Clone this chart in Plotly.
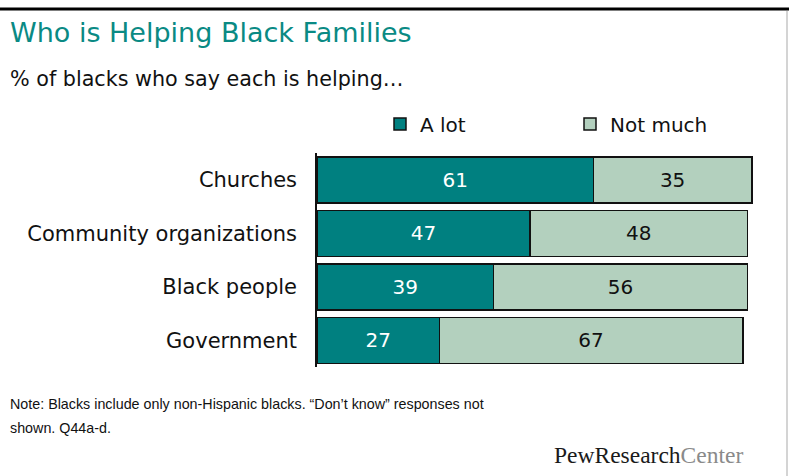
import plotly.graph_objects as go

# Survey results: % of blacks who say each group is helping black families
groups = ["Churches", "Community organizations", "Black people", "Government"]
a_lot = [61, 47, 39, 27]
not_much = [35, 48, 56, 67]
series_names = ["A lot", "Not much"]

TEAL = "#008080"
SAGE = "#b3d0be"
FONT = "DejaVu Sans, Verdana, sans-serif"
NOTE_FONT = "Liberation Sans, Arial, sans-serif"

W, H = 789, 476
L, R, T, B = 317, 19, 153, 109
PW, PH = W - L - R, H - T - B


def px(x):
    """Convert a pixel column to paper x."""
    return (x - L) / PW


def py(y):
    """Convert a pixel row to paper y."""
    return 1 - (y - T) / PH


fig = go.Figure()
fig.add_trace(go.Bar(
    name=series_names[0], y=groups, x=a_lot, orientation="h",
    marker=dict(color=TEAL, line=dict(color="#111111", width=1.5)),
    text=a_lot, textposition="inside", insidetextanchor="middle",
    textfont=dict(color="white", size=20, family=FONT),
    hoverinfo="skip",
))
fig.add_trace(go.Bar(
    name=series_names[1], y=groups, x=not_much, orientation="h",
    marker=dict(color=SAGE, line=dict(color="#111111", width=1.5)),
    text=not_much, textposition="inside", insidetextanchor="middle",
    textfont=dict(color="#111111", size=20, family=FONT),
    hoverinfo="skip",
))

fig.update_layout(
    width=W, height=H, autosize=False,
    barmode="stack", bargap=0.14,
    plot_bgcolor="white", paper_bgcolor="white",
    margin=dict(l=L, r=R, t=T, b=B, autoexpand=False),
    font=dict(family=FONT, color="#111111"),
    uniformtext=dict(mode="show", minsize=20),
    showlegend=True,
    legend=dict(
        orientation="h", xref="paper", yref="paper",
        x=px(380), xanchor="left", y=py(124), yanchor="middle",
        entrywidth=145, entrywidthmode="pixels",
        font=dict(size=20, family=FONT, color="#111111"),
        traceorder="normal", bgcolor="rgba(0,0,0,0)",
    ),
    xaxis=dict(range=[0, 100], visible=False, fixedrange=True),
    yaxis=dict(
        autorange="reversed", showline=True, linecolor="#111111", linewidth=1.5,
        ticks="", ticklabelstandoff=14, showgrid=False, automargin=False,
        tickfont=dict(size=21, family=FONT, color="#111111"),
        fixedrange=True,
    ),
    annotations=[
        dict(text="Who is Helping Black Families", xref="paper", yref="paper",
             x=px(8), y=py(33), xanchor="left", yanchor="middle",
             showarrow=False, font=dict(size=27, color="#0a8a84", family=FONT)),
        dict(text="% of blacks who say each is helping…", xref="paper", yref="paper",
             x=px(8), y=py(79), xanchor="left", yanchor="middle",
             showarrow=False, font=dict(size=20.7, color="#111111", family=FONT)),
        dict(text="Note: Blacks include only non-Hispanic blacks. “Don’t know” responses not",
             xref="paper", yref="paper", x=px(8), y=py(404),
             xanchor="left", yanchor="middle", align="left", showarrow=False,
             font=dict(size=14.3, color="#111111", family=NOTE_FONT)),
        dict(text="shown. Q44a-d.",
             xref="paper", yref="paper", x=px(8), y=py(428),
             xanchor="left", yanchor="middle", align="left", showarrow=False,
             font=dict(size=14.3, color="#111111", family=NOTE_FONT)),
        dict(text="PewResearch<span style='color:#8a8a8a'>Center</span>",
             xref="paper", yref="paper", x=px(745), y=py(455),
             xanchor="right", yanchor="middle", showarrow=False,
             font=dict(size=23.5, color="#1a1a1a", family="Liberation Serif, serif")),
    ],
    shapes=[
        dict(type="line", xref="paper", yref="paper", x0=px(0), x1=px(W),
             y0=py(9), y1=py(9), line=dict(color="#000000", width=3)),
        dict(type="line", xref="paper", yref="paper", x0=px(787), x1=px(787),
             y0=py(11), y1=py(H), line=dict(color="#d4d4d4", width=2)),
    ],
)

fig.write_html("out.html")
